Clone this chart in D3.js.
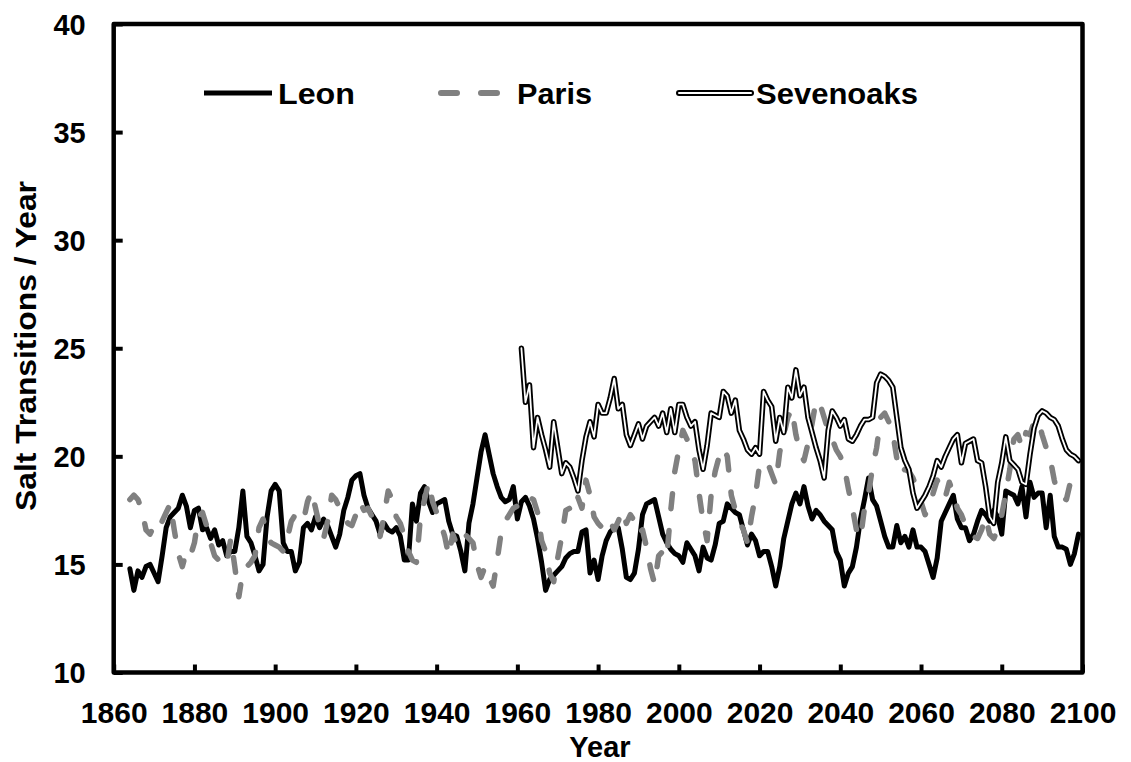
<!DOCTYPE html>
<html>
<head>
<meta charset="utf-8">
<script src="https://cdn.jsdelivr.net/npm/d3@7"></script>
<style>
  html, body { margin: 0; padding: 0; background: #fff; }
  svg text { font-family: "Liberation Sans", Arial, sans-serif; font-weight: bold; fill: #000; }
</style>
</head>
<body>
<svg id="chart" width="1131" height="762"></svg>
<script>
// Annual salt transitions per year for three sites.
const leonStart = 1864;
const leonValues = [
  14.8, 13.8, 14.7, 14.4, 14.9, 15.0,                               // 1864-1869
  14.6, 14.2, 15.4, 16.7, 17.2, 17.4, 17.6, 18.2, 17.7, 16.7,       // 1870s
  17.5, 17.6, 16.6, 16.7, 16.2, 16.6, 15.9, 16.1, 15.4, 15.6,       // 1880s
  15.6, 16.7, 18.4, 16.3, 16.0, 15.4, 14.7, 15.0, 17.2, 18.4,       // 1890s
  18.7, 18.4, 16.0, 15.6, 15.6, 14.7, 15.1, 16.7, 16.9, 16.6,       // 1900s
  17.2, 16.7, 17.1, 16.8, 16.3, 15.8, 16.4, 17.5, 18.1, 18.9,       // 1910s
  19.1, 19.2, 18.2, 17.6, 17.3, 17.0, 16.4, 16.9, 16.6, 16.5,       // 1920s
  16.7, 16.3, 15.2, 15.2, 17.8, 17.0, 18.3, 18.6, 17.9, 17.4,       // 1930s
  17.8, 17.9, 18.0, 17.0, 16.4, 16.3, 15.6, 14.7, 16.9, 17.8,       // 1940s
  19.0, 20.2, 21.0, 20.1, 19.2, 18.6, 18.1, 17.9, 18.0, 18.6,       // 1950s
  17.1, 17.9, 18.1, 17.7, 17.1, 16.2, 15.1, 13.8, 14.3, 14.5,       // 1960s
  14.7, 14.9, 15.3, 15.5, 15.6, 15.6, 16.5, 16.6, 14.6, 15.2,       // 1970s
  14.3, 15.4, 16.1, 16.5, 16.7, 16.7, 15.7, 14.4, 14.3, 14.6,       // 1980s
  15.7, 17.3, 17.8, 17.9, 18.0, 17.2, 16.4, 16.0, 15.7, 15.5,       // 1990s
  15.4, 15.1, 16.0, 15.7, 15.4, 14.7, 15.8, 15.3, 15.2, 15.9,       // 2000s
  16.9, 17.0, 17.8, 17.6, 17.4, 17.3, 16.6, 15.9, 16.4, 16.1,       // 2010s
  15.4, 15.6, 15.6, 14.9, 14.0, 14.9, 16.2, 17.0, 17.8, 18.3,       // 2020s
  17.8, 18.6, 17.7, 17.1, 17.5, 17.3, 17.0, 16.8, 16.6, 15.6,       // 2030s
  15.2, 14.0, 14.6, 14.9, 15.8, 17.1, 18.0, 19.0, 18.0, 17.7,       // 2040s
  17.0, 16.3, 15.8, 15.8, 16.8, 16.0, 16.3, 15.8, 16.6, 15.8,       // 2050s
  15.8, 15.6, 15.0, 14.4, 15.3, 17.0, 17.4, 17.8, 18.2, 17.1,       // 2060s
  16.7, 16.7, 16.1, 16.4, 17.0, 17.5, 17.3, 17.0, 17.5, 17.2,       // 2070s
  16.4, 18.4, 18.3, 18.2, 17.8, 18.6, 17.2, 18.8, 18.1, 18.3,       // 2080s
  18.3, 16.7, 18.2, 16.3, 15.8, 15.8, 15.7, 15.0, 15.5, 16.4        // 2090s
];

const parisStart = 1864;
const parisValues = [
  18.0, 18.2, 18.0, 17.5, 16.6, 16.4,                               // 1864-1869
  16.8, 16.6, 17.0, 17.4, 17.8, 16.6, 15.5, 14.9, 15.6, 15.4,       // 1870s
  16.0, 17.2, 17.4, 16.8, 16.0, 15.4, 15.2, 14.9, 15.0, 16.2,       // 1880s
  14.9, 13.5, 14.7, 14.9, 15.1, 15.4, 16.7, 17.1, 16.4, 16.0,       // 1890s
  15.9, 15.8, 15.6, 16.2, 17.0, 17.3, 17.2, 17.0, 17.9, 18.4,       // 1900s
  17.6, 16.8, 16.2, 17.0, 18.2, 18.0, 17.6, 17.4, 16.9, 16.8,       // 1910s
  17.3, 17.9, 17.5, 17.6, 17.2, 16.9, 16.3, 17.3, 18.4, 18.0,       // 1920s
  17.2, 16.9, 16.3, 15.6, 15.2, 15.1, 17.2, 18.0, 18.8, 17.9,       // 1930s
  17.4, 16.9, 16.3, 15.4, 16.4, 15.9, 16.0, 16.4, 16.2, 16.0,       // 1940s
  15.0, 14.4, 14.9, 14.4, 14.0, 15.2, 16.5, 17.0, 17.3, 17.6,       // 1950s
  17.7, 17.9, 18.2, 18.1, 18.0, 17.4, 16.1, 15.6, 14.6, 14.2,       // 1960s
  15.3, 16.3, 17.5, 17.6, 17.4, 18.1, 17.6, 18.9, 18.2, 17.2,       // 1970s
  16.9, 16.7, 16.6, 17.0, 16.6, 17.0, 17.5, 16.9, 17.3, 17.0,       // 1980s
  16.4, 16.6, 15.8, 14.8, 14.1, 15.4, 15.6, 15.3, 17.5, 19.3,       // 1990s
  20.3, 21.2, 20.8, 20.3, 19.8, 18.3, 17.0, 16.1, 18.2, 19.3,       // 2000s
  20.0, 20.4, 20.0, 18.2, 17.5, 17.0, 16.6, 16.0, 17.2, 18.2,       // 2010s
  19.6, 19.8, 19.7, 19.2, 18.7, 20.2, 21.0, 21.8, 22.2, 21.0,       // 2020s
  20.2, 19.8, 20.6, 21.5, 22.6, 22.4, 21.8, 21.2, 20.8, 20.3,       // 2030s
  20.0, 19.5, 18.5, 17.6, 16.6, 16.2, 17.6, 18.3, 19.5, 20.4,       // 2040s
  21.8, 22.0, 21.6, 21.1, 19.9, 19.2, 19.4, 19.3, 19.0, 18.5,       // 2050s
  17.9, 17.3, 17.6, 18.3, 18.9, 18.5, 18.1, 18.8, 18.3, 17.6,       // 2060s
  17.3, 16.8, 16.5, 16.3, 16.2, 16.6, 17.2, 16.4, 16.2, 16.6,       // 2070s
  17.3, 18.3, 19.4, 20.8, 21.0, 20.4, 21.1, 21.0, 21.6, 21.7,       // 2080s
  21.0, 20.4, 19.9, 18.9, 18.2, 18.1, 18.0, 18.8, 19.3, 19.5        // 2090s
];

const sevenoaksStart = 1961;
const sevenoaksValues = [
  25.0, 22.5, 23.3, 20.4, 21.8, 21.0, 20.3, 19.5, 21.6,             // 1961-1969
  20.4, 19.2, 19.7, 19.5, 19.0, 18.4, 19.8, 20.9, 21.6, 20.9,       // 1970s
  22.4, 22.0, 22.0, 22.7, 23.6, 22.2, 22.4, 21.0, 20.5, 21.0,       // 1980s
  21.5, 20.8, 21.4, 21.6, 21.8, 21.4, 22.0, 21.1, 22.2, 21.1,       // 1990s
  22.4, 22.4, 21.8, 21.4, 21.6, 20.3, 19.4, 20.5, 22.0, 21.9,       // 2000s
  21.8, 23.0, 22.8, 22.0, 22.6, 21.2, 20.8, 20.3, 20.1, 20.4,       // 2010s
  20.1, 23.0, 22.6, 22.3, 20.7, 21.8, 21.1, 23.2, 22.7, 24.0,       // 2020s
  22.8, 23.2, 21.8, 21.1, 20.4, 19.8, 19.0, 21.2, 22.1, 21.8,       // 2030s
  21.4, 21.7, 20.8, 20.7, 21.0, 21.4, 21.7, 21.7, 21.8, 23.4,       // 2040s
  23.8, 23.7, 23.5, 23.2, 21.8, 20.4, 19.8, 19.4, 18.3, 17.6,       // 2050s
  17.9, 18.2, 18.6, 19.1, 19.8, 19.5, 20.0, 20.4, 20.8, 21.0,       // 2060s
  19.7, 20.6, 20.7, 20.8, 19.8, 19.7, 18.6, 17.2, 16.9, 18.8,       // 2070s
  19.7, 20.9, 19.8, 19.6, 19.4, 18.8, 18.7, 20.1, 21.3, 21.9,       // 2080s
  22.1, 22.0, 21.8, 21.7, 21.4, 20.8, 20.3, 20.1, 20.0, 19.8        // 2090s
];

const seriesNames = ["Leon", "Paris", "Sevenoaks"];
const xTicks = [1860, 1880, 1900, 1920, 1940, 1960, 1980, 2000, 2020, 2040, 2060, 2080, 2100];
const yTicks = [10, 15, 20, 25, 30, 35, 40];
const xTitle = "Year";
const yTitle = "Salt Transitions / Year";

// Pair each value with its year
function toPoints(start, values) {
  return values.map((v, i) => ({ year: start + i, value: v }));
}
const leon = toPoints(leonStart, leonValues);
const paris = toPoints(parisStart, parisValues);
const sevenoaks = toPoints(sevenoaksStart, sevenoaksValues);

const svg = d3.select("#chart");
const plot = { left: 113.7, right: 1082.5, top: 24, bottom: 672.5 };

const x = d3.scaleLinear().domain([1860, 2100]).range([plot.left, plot.right]);
const y = d3.scaleLinear().domain([10, 40]).range([plot.bottom, plot.top]);

const line = d3.line()
  .x(d => x(d.year))
  .y(d => y(d.value))
  .curve(d3.curveLinear);

// Series lines
const lines = svg.append("g").attr("fill", "none")
  .attr("stroke-linejoin", "round").attr("stroke-linecap", "round");

lines.append("path").datum(leon)
  .attr("d", line).attr("stroke", "#000").attr("stroke-width", 5);

lines.append("path").datum(paris)
  .attr("d", line).attr("stroke", "#808080").attr("stroke-width", 5.5)
  .attr("stroke-dasharray", "15,22");

// Sevenoaks: double line (black outline with a white core)
lines.append("path").datum(sevenoaks)
  .attr("d", line).attr("stroke", "#000").attr("stroke-width", 5.5);
lines.append("path").datum(sevenoaks)
  .attr("d", line).attr("stroke", "#fff").attr("stroke-width", 1.8);

// X axis: ticks point up into the plot
const xAxis = svg.append("g")
  .attr("transform", `translate(0,${plot.bottom})`)
  .call(d3.axisBottom(x).tickValues(xTicks).tickFormat(d3.format("d")).tickSize(-8));
xAxis.select(".domain").remove();
xAxis.selectAll(".tick line").attr("stroke", "#000").attr("stroke-width", 4);
xAxis.selectAll(".tick text")
  .attr("y", 50).attr("dy", null)
  .style("font-size", "30px");

// Y axis: ticks point right into the plot
const yAxis = svg.append("g")
  .attr("transform", `translate(${plot.left},0)`)
  .call(d3.axisLeft(y).tickValues(yTicks).tickSize(-9));
yAxis.select(".domain").remove();
yAxis.selectAll(".tick line").attr("stroke", "#000").attr("stroke-width", 4);
yAxis.selectAll(".tick text")
  .attr("x", -28).attr("dy", "0.36em")
  .style("font-size", "29px");

// Plot frame
svg.append("rect")
  .attr("x", plot.left).attr("y", plot.top)
  .attr("width", plot.right - plot.left).attr("height", plot.bottom - plot.top)
  .attr("fill", "none").attr("stroke", "#000").attr("stroke-width", 4.5)
  .attr("stroke-linejoin", "round");

// Axis titles
svg.append("text")
  .attr("x", 600).attr("y", 757)
  .attr("text-anchor", "middle")
  .style("font-size", "29px")
  .text(xTitle);

svg.append("text")
  .attr("transform", "translate(36,346) rotate(-90)")
  .attr("text-anchor", "middle")
  .attr("textLength", 330)
  .attr("lengthAdjust", "spacingAndGlyphs")
  .style("font-size", "29px")
  .text(yTitle);

// Legend
const legendY = 93;
const legend = svg.append("g").attr("fill", "none").attr("stroke-linecap", "round");
legend.append("line")
  .attr("x1", 204).attr("x2", 272).attr("y1", legendY).attr("y2", legendY)
  .attr("stroke", "#000").attr("stroke-width", 5).attr("stroke-linecap", "butt");
legend.append("line")
  .attr("x1", 441).attr("x2", 500).attr("y1", legendY).attr("y2", legendY)
  .attr("stroke", "#808080").attr("stroke-width", 6).attr("stroke-dasharray", "16,24");
legend.append("line")
  .attr("x1", 679).attr("x2", 751).attr("y1", legendY).attr("y2", legendY)
  .attr("stroke", "#000").attr("stroke-width", 6);
legend.append("line")
  .attr("x1", 679).attr("x2", 751).attr("y1", legendY).attr("y2", legendY)
  .attr("stroke", "#fff").attr("stroke-width", 2);

const legendTextX = [278, 517, 756];
const legendTextW = [77, 75, 162];
svg.selectAll(".legend-label")
  .data(seriesNames)
  .join("text")
  .attr("class", "legend-label")
  .attr("x", (d, i) => legendTextX[i])
  .attr("y", legendY + 11)
  .attr("textLength", (d, i) => legendTextW[i])
  .attr("lengthAdjust", "spacingAndGlyphs")
  .style("font-size", "30px")
  .text(d => d);
</script>
</body>
</html>
